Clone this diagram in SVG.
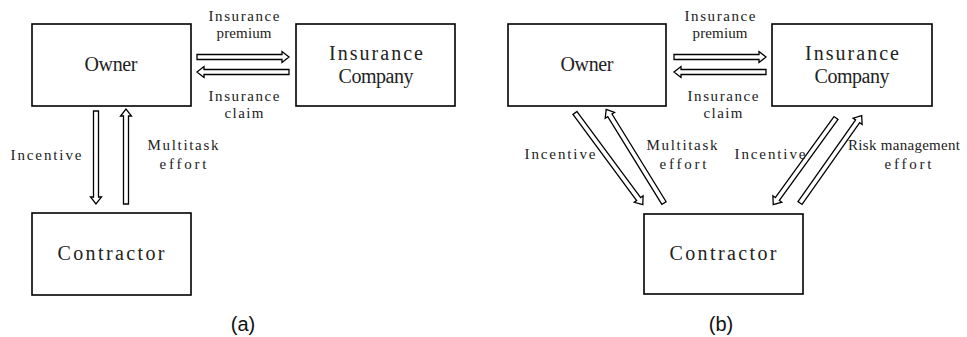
<svg xmlns="http://www.w3.org/2000/svg" width="967" height="337" viewBox="0 0 967 337">
  <style>
    .box { fill: #fff; stroke: #000; stroke-width: 1.6; }
    .node-text { font-family: "Liberation Serif", "DejaVu Serif", serif; font-size: 20px; fill: #222; text-anchor: middle; }
    .label { font-family: "Liberation Serif", "DejaVu Serif", serif; font-size: 15px; fill: #222; text-anchor: middle; }
    .caption { font-family: "Liberation Sans", Arial, sans-serif; font-size: 20px; fill: #111; text-anchor: middle; }
    .arrow { fill: #fff; stroke: #000; stroke-width: 1.3; stroke-linejoin: miter; }
  </style>

  <rect width="967" height="337" fill="#fff"/>

  <!-- Panel (a) nodes -->
  <g id="owner-a">
    <rect class="box" x="32" y="24" width="159" height="82"/>
    <text class="node-text" x="111" y="71" textLength="53" lengthAdjust="spacing">Owner</text>
  </g>
  <g id="insurer-a">
    <rect class="box" x="296" y="24" width="159" height="82"/>
    <text class="node-text" x="376" y="60" textLength="94" lengthAdjust="spacing">Insurance</text>
    <text class="node-text" x="376" y="83" textLength="75" lengthAdjust="spacing">Company</text>
  </g>
  <g id="contractor-a">
    <rect class="box" x="32" y="213" width="159" height="82"/>
    <text class="node-text" x="111" y="260" textLength="107" lengthAdjust="spacing">Contractor</text>
  </g>

  <!-- Panel (b) nodes -->
  <g id="owner-b">
    <rect class="box" x="508" y="24" width="158" height="82"/>
    <text class="node-text" x="587" y="71" textLength="53" lengthAdjust="spacing">Owner</text>
  </g>
  <g id="insurer-b">
    <rect class="box" x="772" y="24" width="160" height="82"/>
    <text class="node-text" x="852" y="60" textLength="94" lengthAdjust="spacing">Insurance</text>
    <text class="node-text" x="852" y="83" textLength="75" lengthAdjust="spacing">Company</text>
  </g>
  <g id="contractor-b">
    <rect class="box" x="644" y="214" width="159" height="80"/>
    <text class="node-text" x="723" y="260" textLength="107" lengthAdjust="spacing">Contractor</text>
  </g>

  <!-- Hollow block arrows; each drawn along +x then placed by translate/rotate -->
  <g id="connectors">
    <!-- (a) premium / claim -->
    <g transform="translate(197,57)"><path class="arrow" d="M0,-2.5 H85 V-5.5 L92,0 L85,5.5 V2.5 H0 Z"/></g>
    <g transform="translate(289,72) rotate(180)"><path class="arrow" d="M0,-2.5 H85 V-5.5 L92,0 L85,5.5 V2.5 H0 Z"/></g>
    <!-- (a) incentive / multitask effort -->
    <g transform="translate(96,111) rotate(90)"><path class="arrow" d="M0,-2.5 H86 V-5.5 L93,0 L86,5.5 V2.5 H0 Z"/></g>
    <g transform="translate(126,204) rotate(-90)"><path class="arrow" d="M0,-2.5 H88 V-5.5 L95,0 L88,5.5 V2.5 H0 Z"/></g>

    <!-- (b) premium / claim -->
    <g transform="translate(674,57)"><path class="arrow" d="M0,-2.5 H85 V-5.5 L92,0 L85,5.5 V2.5 H0 Z"/></g>
    <g transform="translate(766,72) rotate(180)"><path class="arrow" d="M0,-2.5 H85 V-5.5 L92,0 L85,5.5 V2.5 H0 Z"/></g>
    <!-- (b) owner incentive / multitask effort -->
    <g transform="translate(575,113) rotate(53.5)"><path class="arrow" d="M0,-2.5 H107 V-5.5 L114,0 L107,5.5 V2.5 H0 Z"/></g>
    <g transform="translate(664,203) rotate(-121.7)"><path class="arrow" d="M0,-2.5 H103 V-5.5 L110,0 L103,5.5 V2.5 H0 Z"/></g>
    <!-- (b) insurer incentive / risk management effort -->
    <g transform="translate(836,118) rotate(125.9)"><path class="arrow" d="M0,-2.5 H100 V-5.5 L107,0 L100,5.5 V2.5 H0 Z"/></g>
    <g transform="translate(800,203) rotate(-54.8)"><path class="arrow" d="M0,-2.5 H100 V-5.5 L107,0 L100,5.5 V2.5 H0 Z"/></g>
  </g>

  <!-- Connector labels (a) -->
  <g id="labels-a">
    <text class="label" x="244" y="21" textLength="71" lengthAdjust="spacing">Insurance</text>
    <text class="label" x="244" y="38" textLength="55" lengthAdjust="spacing">premium</text>
    <text class="label" x="244" y="101" textLength="71" lengthAdjust="spacing">Insurance</text>
    <text class="label" x="244" y="118" textLength="39" lengthAdjust="spacing">claim</text>
    <text class="label" x="46" y="160" textLength="71" lengthAdjust="spacing">Incentive</text>
    <text class="label" x="183" y="150" textLength="71" lengthAdjust="spacing">Multitask</text>
    <text class="label" x="183" y="169" textLength="47" lengthAdjust="spacing">effort</text>
  </g>

  <!-- Connector labels (b) -->
  <g id="labels-b">
    <text class="label" x="720" y="21" textLength="71" lengthAdjust="spacing">Insurance</text>
    <text class="label" x="720" y="38" textLength="55" lengthAdjust="spacing">premium</text>
    <text class="label" x="723" y="101" textLength="71" lengthAdjust="spacing">Insurance</text>
    <text class="label" x="723" y="118" textLength="39" lengthAdjust="spacing">claim</text>
    <text class="label" x="560" y="159" textLength="71" lengthAdjust="spacing">Incentive</text>
    <text class="label" x="682" y="150" textLength="71" lengthAdjust="spacing">Multitask</text>
    <text class="label" x="683" y="169" textLength="47" lengthAdjust="spacing">effort</text>
    <text class="label" x="770" y="159" textLength="71" lengthAdjust="spacing">Incentive</text>
    <text class="label" x="904" y="150" textLength="112" lengthAdjust="spacing">Risk management</text>
    <text class="label" x="908" y="169" textLength="47" lengthAdjust="spacing">effort</text>
  </g>

  <!-- Panel captions -->
  <text class="caption" x="243" y="331">(a)</text>
  <text class="caption" x="721" y="331">(b)</text>
</svg>
